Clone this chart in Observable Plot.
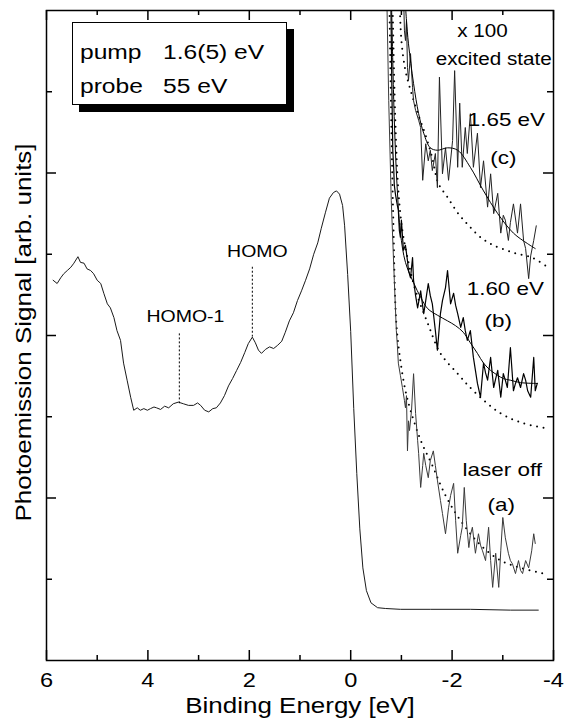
<!DOCTYPE html>
<html>
<head>
<meta charset="utf-8">
<script src="https://cdn.jsdelivr.net/npm/d3@7"></script>
<script src="https://cdn.jsdelivr.net/npm/@observablehq/plot@0.6"></script>
<style>
  body { margin: 0; background: #fff; }
  #chart { position: relative; width: 564px; height: 721px; font-family: "Liberation Sans", Arial, sans-serif; }
  #legend {
    position: absolute; left: 72px; top: 22px; width: 213px; height: 81px;
    border: 1.5px solid #000; background: #fff; box-shadow: 7px 7px 0 #000;
    font-size: 20.5px; color: #000;
  }
  #legend span {
    position: absolute; line-height: 21px; white-space: pre;
    transform: scaleX(1.2); transform-origin: 0 0;
  }
</style>
</head>
<body>
<div id="chart">
  <div id="legend">
    <span style="left:7px;top:18px">pump</span><span style="left:90px;top:18px">1.6(5) eV</span>
    <span style="left:7px;top:52px">probe</span><span style="left:90px;top:52px">55 eV</span>
  </div>
</div>
<script>
// Valence-band spectrum: binding energy [eV] vs. signal [arb. units]
const spectrum = [
  [5.87,4.68],[5.79,4.64],[5.72,4.71],[5.66,4.76],[5.59,4.80],[5.52,4.84],[5.46,4.89],[5.38,4.97],
  [5.33,4.90],[5.26,4.89],[5.20,4.82],[5.13,4.80],[5.07,4.76],[5.00,4.68],[4.93,4.64],[4.87,4.52],
  [4.80,4.39],[4.74,4.34],[4.67,4.22],[4.61,4.06],[4.54,3.94],[4.48,3.66],[4.41,3.45],[4.34,3.24],
  [4.28,3.08],[4.21,3.11],[4.15,3.08],[4.08,3.10],[4.01,3.08],[3.95,3.10],[3.88,3.12],[3.83,3.11],
  [3.75,3.09],[3.67,3.13],[3.59,3.11],[3.50,3.16],[3.40,3.18],[3.30,3.16],[3.20,3.14],[3.10,3.14],
  [3.02,3.17],[2.96,3.14],[2.88,3.08],[2.80,3.06],[2.72,3.10],[2.65,3.11],[2.57,3.17],[2.49,3.26],
  [2.41,3.38],[2.33,3.47],[2.25,3.57],[2.17,3.67],[2.09,3.79],[2.02,3.90],[1.94,3.98],[1.88,3.91],
  [1.82,3.82],[1.76,3.78],[1.68,3.83],[1.60,3.86],[1.52,3.84],[1.44,3.88],[1.36,3.93],[1.29,4.04],
  [1.21,4.18],[1.13,4.28],[1.05,4.43],[0.97,4.55],[0.89,4.68],[0.81,4.82],[0.73,5.00],[0.65,5.14],
  [0.58,5.32],[0.50,5.51],[0.42,5.69],[0.34,5.76],[0.28,5.78],[0.22,5.74],[0.16,5.60],[0.12,5.35],
  [0.06,4.75],[0.00,4.05],[-0.06,3.10],[-0.12,2.30],[-0.18,1.62],[-0.24,1.14],[-0.31,0.86],
  [-0.40,0.71],[-0.53,0.65],[-0.69,0.64],[-0.98,0.63],[-1.57,0.63],[-2.36,0.63],[-3.15,0.62],[-3.70,0.62]
];

// x 100 magnified traces near the Fermi level
const laserOff = [
  [-0.71,8.25],[-0.75,6.89],[-0.80,5.66],[-0.86,4.68],[-0.90,4.06],[-0.92,3.88],[-0.94,3.66],[-0.98,3.51],
  [-1.02,3.36],[-1.06,3.20],[-1.08,3.11],[-1.10,3.26],[-1.12,2.58],[-1.14,2.95],[-1.16,2.83],[-1.20,3.08],
  [-1.24,3.53],[-1.28,3.04],[-1.32,2.71],[-1.34,2.55],[-1.38,2.13],[-1.42,2.40],[-1.44,2.55],[-1.48,2.40],
  [-1.53,2.25],[-1.57,2.46],[-1.63,2.58],[-1.67,2.40],[-1.71,2.22],[-1.77,1.97],[-1.81,1.81],[-1.87,1.56],
  [-1.93,1.88],[-1.97,2.03],[-2.03,2.18],[-2.07,1.72],[-2.11,1.32],[-2.17,1.54],[-2.20,1.64],[-2.24,2.13],
  [-2.28,1.72],[-2.33,1.39],[-2.36,1.54],[-2.40,1.64],[-2.46,1.32],[-2.52,1.56],[-2.56,1.42],[-2.60,1.35],
  [-2.66,1.23],[-2.72,1.64],[-2.76,1.23],[-2.80,0.90],[-2.86,1.32],[-2.92,0.90],[-2.96,1.35],[-3.00,1.76],
  [-3.05,1.51],[-3.11,1.32],[-3.15,1.23],[-3.19,1.19],[-3.25,1.07],[-3.31,1.23],[-3.35,1.11],[-3.39,1.07],
  [-3.45,1.23],[-3.51,1.14],[-3.57,1.35],[-3.61,1.56],[-3.64,1.44]
];
const pump160 = [
  [-0.79,8.25],[-0.81,7.14],[-0.83,6.28],[-0.85,6.03],[-0.86,5.85],[-0.88,5.75],[-0.92,5.60],[-0.94,5.54],
  [-0.96,5.29],[-0.98,5.21],[-1.00,5.42],[-1.02,5.23],[-1.04,5.05],[-1.08,5.11],[-1.12,4.92],[-1.14,4.80],
  [-1.18,4.71],[-1.22,4.96],[-1.24,4.68],[-1.28,4.49],[-1.32,4.34],[-1.38,4.55],[-1.44,4.27],[-1.48,4.43],
  [-1.53,4.64],[-1.57,4.49],[-1.61,4.39],[-1.67,4.06],[-1.71,3.82],[-1.77,4.27],[-1.81,4.43],[-1.87,4.59],
  [-1.91,4.80],[-1.97,4.39],[-2.03,4.52],[-2.07,4.37],[-2.11,4.27],[-2.17,4.10],[-2.22,4.22],[-2.26,4.06],
  [-2.30,3.94],[-2.36,4.06],[-2.42,3.73],[-2.46,3.57],[-2.50,3.41],[-2.56,3.24],[-2.62,3.66],[-2.66,3.54],
  [-2.70,3.45],[-2.76,3.73],[-2.82,3.36],[-2.86,3.47],[-2.90,3.57],[-2.96,3.24],[-3.01,3.53],[-3.05,3.45],
  [-3.09,3.36],[-3.15,3.85],[-3.21,3.32],[-3.25,3.41],[-3.29,3.48],[-3.35,3.36],[-3.41,3.53],[-3.45,3.45],
  [-3.49,3.32],[-3.55,3.24],[-3.61,3.73],[-3.64,3.32],[-3.68,3.41]
];
const pump165 = [
  [-1.04,8.25],[-1.06,7.75],[-1.08,7.63],[-1.10,7.88],[-1.12,7.30],[-1.14,7.14],[-1.18,7.47],[-1.22,7.05],
  [-1.24,6.89],[-1.28,6.77],[-1.34,6.65],[-1.38,6.56],[-1.42,5.91],[-1.48,6.36],[-1.53,6.15],[-1.57,6.28],
  [-1.61,6.03],[-1.67,6.24],[-1.71,5.82],[-1.75,7.18],[-1.81,5.99],[-1.87,6.31],[-1.93,5.91],[-2.01,6.40],
  [-2.05,7.26],[-2.11,6.07],[-2.15,6.86],[-2.20,6.07],[-2.26,6.56],[-2.30,6.24],[-2.36,6.73],[-2.42,6.07],
  [-2.50,6.49],[-2.56,5.82],[-2.62,6.15],[-2.70,5.58],[-2.76,5.99],[-2.82,5.50],[-2.90,5.75],[-2.96,5.26],
  [-3.01,5.48],[-3.05,5.42],[-3.11,5.17],[-3.15,5.39],[-3.21,5.62],[-3.29,5.26],[-3.35,5.62],[-3.41,5.17],
  [-3.45,5.07],[-3.51,4.70],[-3.55,4.98],[-3.61,5.17],[-3.66,5.35]
];

// Background fits (dotted) and fits including the excited state (solid)
const laserOffBackground = [
  [-0.76,8.25],[-0.80,6.65],[-0.84,5.42],[-0.90,4.15],[-0.98,3.69],[-1.08,3.32],[-1.18,3.08],[-1.38,2.71],
  [-1.61,2.40],[-1.87,2.03],[-2.17,1.72],[-2.56,1.42],[-2.96,1.23],[-3.35,1.14],[-3.80,1.07]
];
const pump160Background = [
  [-0.82,8.25],[-0.88,6.65],[-0.94,5.78],[-1.02,5.29],[-1.14,4.90],[-1.28,4.55],[-1.52,4.15],[-1.77,3.78],
  [-2.11,3.53],[-2.42,3.32],[-2.96,3.04],[-3.41,2.92],[-3.84,2.86]
];
const pump165Background = [
  [-0.96,8.25],[-1.00,7.63],[-1.08,7.26],[-1.18,7.02],[-1.32,6.74],[-1.48,6.46],[-1.61,6.18],[-1.73,5.87],
  [-1.91,5.70],[-2.11,5.51],[-2.33,5.35],[-2.56,5.21],[-2.82,5.11],[-3.21,5.02],[-3.61,4.95],[-3.84,4.86]
];
const pump160Fit = [
  [-0.80,8.25],[-0.86,6.65],[-0.92,5.78],[-0.98,5.27],[-1.08,4.90],[-1.24,4.65],[-1.38,4.47],[-1.52,4.33],
  [-1.71,4.25],[-1.91,4.18],[-2.07,4.12],[-2.22,4.04],[-2.36,3.91],[-2.50,3.78],[-2.62,3.66],[-2.76,3.57],
  [-2.90,3.51],[-3.01,3.47],[-3.15,3.45],[-3.35,3.42],[-3.68,3.41]
];
const pump165Fit = [
  [-1.06,8.25],[-1.10,7.88],[-1.14,7.59],[-1.24,7.10],[-1.34,6.73],[-1.44,6.49],[-1.57,6.31],[-1.71,6.28],
  [-1.91,6.31],[-2.11,6.28],[-2.36,6.07],[-2.62,5.78],[-2.90,5.50],[-3.21,5.26],[-3.49,5.13],[-3.64,5.07]
];

// Orbital markers
const markerNames = ["HOMO-1", "HOMO"];
const markerE = [3.38, 1.94];
const markerTop = [4.02, 4.84];
const markerBottom = [3.16, 3.98];
const markerLabelE = [3.26, 1.84];
const markerLabelV = [4.23, 5.03];

// Trace annotations
const traceLabels = ["x 100", "excited state", "1.65 eV", "(c)", "1.60 eV", "(b)", "laser off", "(a)"];
const traceLabelE = [-2.60, -2.82, -3.07, -3.01, -3.05, -2.91, -2.99, -2.97];
const traceLabelV = [7.74, 7.40, 6.65, 6.19, 4.57, 4.18, 2.34, 1.92];

// Axis ticks
const xMajor = [6, 4, 2, 0, -2, -4];
const xMinor = [5, 3, 1, -1, -3];
const yMajor = [2, 4, 6];
const yMinor = [1, 3, 5, 7];

const W = 564, H = 721;
const mL = 46, mR = 11, mT = 10, mB = 61;
const plotW = W - mL - mR, plotH = H - mT - mB;

const markers = markerNames.map((name, i) => ({
  name, E: markerE[i], top: markerTop[i], bottom: markerBottom[i], lx: markerLabelE[i], ly: markerLabelV[i]
}));
const labels = traceLabels.map((text, i) => ({text, E: traceLabelE[i], v: traceLabelV[i]}));
const small = new Set(["x 100", "excited state"]);

const xy = {x: d => d[0], y: d => d[1]};
const dotted = {stroke: "#000", strokeWidth: 2, strokeDasharray: "0,6.5", strokeLinecap: "round", curve: "catmull-rom", clip: true};

const svg = Plot.plot({
  width: W, height: H,
  marginLeft: mL, marginRight: mR, marginTop: mT, marginBottom: mB,
  style: {fontFamily: "'Liberation Sans', Arial, sans-serif", background: "#fff", color: "#000"},
  x: {domain: [6, -4], axis: null},
  y: {domain: [0, 8], axis: null},
  marks: [
    // traces
    Plot.line(spectrum, {...xy, stroke: "#1a1a1a", strokeWidth: 1, clip: true}),
    Plot.line(laserOffBackground, {...xy, ...dotted}),
    Plot.line(pump160Background, {...xy, ...dotted}),
    Plot.line(pump165Background, {...xy, ...dotted}),
    Plot.line(laserOff, {...xy, stroke: "#3a3a3a", strokeWidth: 1, clip: true}),
    Plot.line(pump160, {...xy, stroke: "#000", strokeWidth: 1.2, clip: true}),
    Plot.line(pump165, {...xy, stroke: "#222", strokeWidth: 1, clip: true}),
    Plot.line(pump160Fit, {...xy, stroke: "#000", strokeWidth: 1, curve: "catmull-rom", clip: true}),
    Plot.line(pump165Fit, {...xy, stroke: "#000", strokeWidth: 1, curve: "catmull-rom", clip: true}),
    // orbital markers
    Plot.ruleX(markers, {x: "E", y1: "top", y2: "bottom", stroke: "#000", strokeWidth: 1, strokeDasharray: "2,2"}),
    Plot.text(markers, {x: "lx", y: "ly", text: "name", fontSize: 16.5, lineAnchor: "middle"}),
    // trace annotations
    Plot.text(labels, {x: "E", y: "v", text: "text", lineAnchor: "middle",
      fontSize: d => small.has(d.text) ? 17.5 : 19}),
    // frame and inward ticks
    Plot.frame({stroke: "#000", strokeWidth: 1.5}),
    Plot.ruleX(xMajor, {insetTop: plotH - 10, strokeWidth: 1.5}),
    Plot.ruleX(xMinor, {insetTop: plotH - 5, strokeWidth: 1.5}),
    Plot.ruleX(xMajor, {insetBottom: plotH - 10, strokeWidth: 1.5}),
    Plot.ruleX(xMinor, {insetBottom: plotH - 5, strokeWidth: 1.5}),
    Plot.ruleY(yMajor, {insetRight: plotW - 10, strokeWidth: 1.5}),
    Plot.ruleY(yMinor, {insetRight: plotW - 6, strokeWidth: 1.5}),
    Plot.ruleY(yMajor, {insetLeft: plotW - 10, strokeWidth: 1.5}),
    Plot.ruleY(yMinor, {insetLeft: plotW - 6, strokeWidth: 1.5}),
    // tick labels and axis titles
    Plot.text(xMajor, {x: d => d, frameAnchor: "bottom", lineAnchor: "middle", textAnchor: "middle", dy: 20, fontSize: 20, text: d => String(d)}),
    Plot.text(["Binding Energy [eV]"], {frameAnchor: "bottom", lineAnchor: "middle", textAnchor: "middle", dy: 45, fontSize: 22}),
    Plot.text(["Photoemission Signal [arb. units]"], {frameAnchor: "left", lineAnchor: "middle", textAnchor: "middle", rotate: -90, dx: -23, dy: -3, fontSize: 22})
  ]
});

const chart = document.getElementById("chart");
chart.insertBefore(svg, chart.firstChild);

// Widen the lettering to the broad grotesque used on the figure
svg.querySelectorAll("text").forEach(t => {
  const len = t.getComputedTextLength();
  if (len > 0) {
    t.setAttribute("textLength", (len * 1.18).toFixed(1));
    t.setAttribute("lengthAdjust", "spacingAndGlyphs");
  }
});
</script>
</body>
</html>
